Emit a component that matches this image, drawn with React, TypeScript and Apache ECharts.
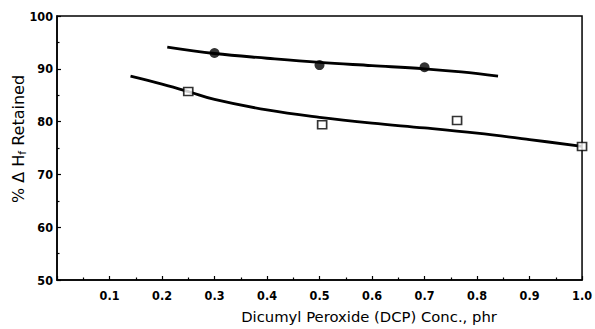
import React, { useEffect, useRef } from "react";
import * as echarts from "echarts";

// Data
const circlePoints: [number, number][] = [
  [0.3, 93.0],
  [0.5, 90.7],
  [0.7, 90.3],
];
const circleCurve: [number, number][] = [
  [0.21, 94.1],
  [0.3, 92.9],
  [0.4, 92.0],
  [0.5, 91.2],
  [0.6, 90.6],
  [0.7, 90.0],
  [0.77, 89.4],
  [0.84, 88.6],
];
const squarePoints: [number, number][] = [
  [0.25, 85.7],
  [0.505, 79.4],
  [0.762, 80.2],
  [1.0, 75.3],
];
const squareCurve: [number, number][] = [
  [0.14, 88.6],
  [0.2, 87.1],
  [0.25, 85.7],
  [0.3, 84.2],
  [0.4, 82.2],
  [0.5, 80.8],
  [0.6, 79.7],
  [0.7, 78.8],
  [0.8, 77.8],
  [0.9, 76.6],
  [1.0, 75.3],
];
const xTitle = "Dicumyl Peroxide (DCP) Conc., phr";
const yTitleParts = ["% \u0394 H", "f", " Retained"];

const tickFont = '"Liberation Sans Narrow", "DejaVu Sans Condensed", "Roboto Condensed", sans-serif';

export default function App() {
  const ref = useRef<HTMLDivElement>(null);
  useEffect(() => {
    if (!ref.current) return;
    const chart = echarts.init(ref.current, null, { renderer: "svg" });
    chart.setOption({
      animation: false,
      backgroundColor: "#ffffff",
      grid: {
        left: 57,
        right: 8,
        top: 16,
        bottom: 49,
        show: true,
        borderColor: "#000",
        borderWidth: 1.5,
      },
      xAxis: {
        type: "value",
        min: 0,
        max: 1.0,
        interval: 0.1,
        axisLine: { show: true, lineStyle: { color: "#000", width: 1.5 } },
        axisTick: { show: true, inside: true, length: 4, lineStyle: { color: "#000", width: 1.2 } },
        minorTick: { show: true, splitNumber: 2, length: 2.5, lineStyle: { color: "#000", width: 1.2 } },
        splitLine: { show: false },
        axisLabel: {
          color: "#000",
          fontFamily: tickFont,
          fontWeight: "bold",
          fontSize: 12.5,
          margin: 9,
          showMinLabel: false,
          showMaxLabel: true,
          formatter: (v: number) => (v === 0 ? "" : v.toFixed(1)),
        },
      },
      yAxis: {
        type: "value",
        min: 50,
        max: 100,
        interval: 10,
        axisLine: { show: true, lineStyle: { color: "#000", width: 1.5 } },
        axisTick: { show: true, inside: true, length: 4, lineStyle: { color: "#000", width: 1.2 } },
        minorTick: { show: true, splitNumber: 2, length: 2.5, lineStyle: { color: "#000", width: 1.2 } },
        splitLine: { show: false },
        axisLabel: {
          color: "#000",
          fontFamily: tickFont,
          fontWeight: "bold",
          fontSize: 12.5,
          margin: 4,
        },
      },
      series: [
        {
          type: "line",
          data: circleCurve,
          smooth: 0.4,
          showSymbol: false,
          symbol: "none",
          lineStyle: { color: "#000", width: 2.8 },
          z: 2,
        },
        {
          type: "line",
          data: squareCurve,
          smooth: 0.4,
          showSymbol: false,
          symbol: "none",
          lineStyle: { color: "#000", width: 2.8 },
          z: 2,
        },
        {
          type: "scatter",
          data: circlePoints,
          symbol: "circle",
          symbolSize: 10,
          itemStyle: { color: "#000" },
          z: 3,
        },
        {
          type: "scatter",
          data: squarePoints,
          symbol: "rect",
          symbolSize: [9, 8],
          itemStyle: { color: "#fff", borderColor: "#000", borderWidth: 1.6 },
          z: 3,
        },
      ],
      graphic: [
        {
          type: "text",
          x: 369,
          y: 316,
          style: {
            text: xTitle,
            fontFamily: '"DejaVu Sans", sans-serif',
            fontSize: 14.8,
            fill: "#000",
            textAlign: "center",
            textVerticalAlign: "middle",
          },
        },
        {
          type: "text",
          x: 18,
          y: 139,
          rotation: Math.PI / 2,
          style: {
            text: `{m|${yTitleParts[0]}}{s|${yTitleParts[1]}}{m|${yTitleParts[2]}}`,
            textAlign: "center",
            textVerticalAlign: "middle",
            rich: {
              m: { fontFamily: '"DejaVu Sans", sans-serif', fontSize: 16, fill: "#000", color: "#000" },
              s: {
                fontFamily: '"DejaVu Sans", sans-serif',
                fontSize: 11,
                fill: "#000",
                color: "#000",
                padding: [8, 0, 0, 0],
              },
            },
          },
        },
      ],
    });
    return () => chart.dispose();
  }, []);
  return (
    <div
      ref={ref}
      style={{ position: "fixed", left: 0, top: 0, width: 595, height: 329, background: "#fff" }}
    />
  );
}
